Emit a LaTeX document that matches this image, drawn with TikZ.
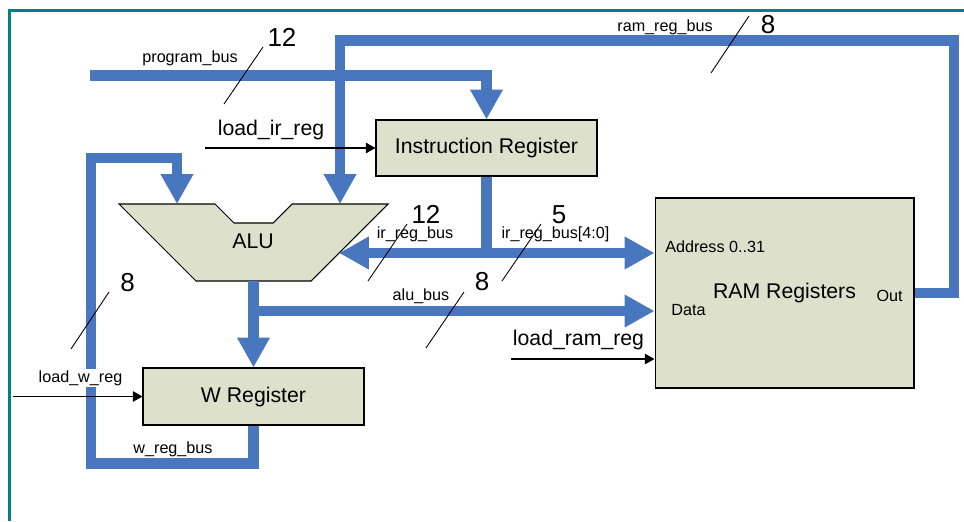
\documentclass[tikz,border=0pt]{standalone}
\usepackage{fontspec}
\setmainfont{Liberation Sans}
\usetikzlibrary{arrows.meta, positioning, calc}
\definecolor{busblue}{RGB}{72,119,191}
\definecolor{boxfill}{RGB}{221,225,204}
\definecolor{frameteal}{RGB}{0,128,128}

\begin{document}
\begin{tikzpicture}[x=0.02cm, y=-0.02cm,
        bus/.style={draw=busblue, line width=6pt},
        busarrow/.style={bus, -{Triangle[length=17pt, width=17.5pt]}},
        ctl/.style={draw, line width=0.6pt, -{Triangle[length=5.5pt, width=6pt]}},
        regbox/.style={draw, fill=boxfill, line width=0.6pt, inner sep=0pt, font=\fontsize{12.1}{14}\selectfont},
        sig/.style={anchor=base, inner sep=0pt, font=\fontsize{12.1}{14}\selectfont},
        busname/.style={anchor=base, inner sep=0pt, font=\fontsize{9.2}{11}\selectfont},
        bits/.style={anchor=base, inner sep=0pt, font=\fontsize{14.8}{17}\selectfont},
        slash/.style={draw, line width=0.5pt}]
        \useasboundingbox (0,0) rectangle (964,521);
        \draw[frameteal, line width=1.7pt] (9.5,521) -- (9.5,10.5) -- (964,10.5);

        \node[regbox, minimum width=4.42cm, minimum height=1.12cm](ir) at (486.5,148) {Instruction Register};
        \node[regbox, minimum width=4.42cm, minimum height=1.14cm](w) at (253.5,396.5) {W Register};
        \node[regbox, minimum width=5.18cm, minimum height=3.8cm](ram) at (784.5,293) {RAM Registers};

        \draw[fill=boxfill, line width=0.6pt] (119,204) -- (215,204) -- (234,223) -- (273,223) -- (292,204)
            -- (388,204) -- (311,281) -- (196,281) -- cycle;
        \node[sig](alu) at (253,248) {ALU};
        \coordinate (aluA) at (177,204);
        \coordinate (aluB) at (340,204);
        \coordinate (aluout) at (253.5,281);
        \coordinate (aluside) at (339,253);

        \coordinate (pb) at (90,75.5);
        \coordinate (rr) at (954,40.5);
        \coordinate (wb) at (91,463.5);
        \coordinate (wt) at (91,158);
        \coordinate (alujn) at (253.5,311);
        \coordinate (irjn) at (ir.south |- aluside);

        \draw[busarrow] (pb) -| (ir.north);
        \draw[busarrow] (ram.east) -| (rr) -| (aluB);
        \draw[busarrow] (w.south) |- (wb) -- (wt) -| (aluA);
        \draw[busarrow] (aluout) -- (w.north);
        \draw[busarrow] (alujn) -- (alujn -| ram.west);
        \draw[bus] (ir.south) -- (irjn);
        \draw[busarrow] (irjn) -- (aluside);
        \draw[busarrow] (irjn) -- (irjn -| ram.west);

        \node[busname](pbname) at (190,62) {program\_bus};
        \node[busname](rrname) at (665,31) {ram\_reg\_bus};
        \node[busname](irname) at (415,238) {ir\_reg\_bus};
        \node[busname](iraname) at (555.5,238) {ir\_reg\_bus[4:0]};
        \node[busname](aluname) at (421,300) {alu\_bus};
        \node[busname](wname) at (173,453) {w\_reg\_bus};
        \node[busname, fill=white, inner sep=1pt](lwname) at (80.5,382) {load\_w\_reg};
        \node[sig](lirname) at (271,135) {load\_ir\_reg};
        \node[sig](lramname) at (578.5,345) {load\_ram\_reg};

        \node[busname, anchor=base west](addr) at (665,252) {Address 0..31};
        \node[busname, anchor=base west](data) at (671,315) {Data};
        \node[busname, anchor=base east](out) at (903,301) {Out};

        \node[bits](pbbits) at (282,46) {12};
        \node[bits](rrbits) at (768,33) {8};
        \node[bits](irbits) at (426,223) {12};
        \node[bits](irabits) at (559,223) {5};
        \node[bits](alubits) at (482,290) {8};
        \node[bits](wbits) at (127.5,291) {8};

        \coordinate (lir) at (205,148);
        \coordinate (lw) at (13,396.5);
        \coordinate (lram) at (511,359);
        \draw[ctl] (lir) -- (ir.west);
        \draw[ctl] (lw) -- (w.west);
        \draw[ctl] (lram) -- (lram -| ram.west);

        \draw[slash] (224,104) -- (263,47);
        \draw[slash] (711,73) -- (749,16);
        \draw[slash] (368,281) -- (407,224);
        \draw[slash] (502,281) -- (541,224);
        \draw[slash] (426,348) -- (464,292);
        \draw[slash] (71,349) -- (109,292);
\end{tikzpicture}
\end{document}
